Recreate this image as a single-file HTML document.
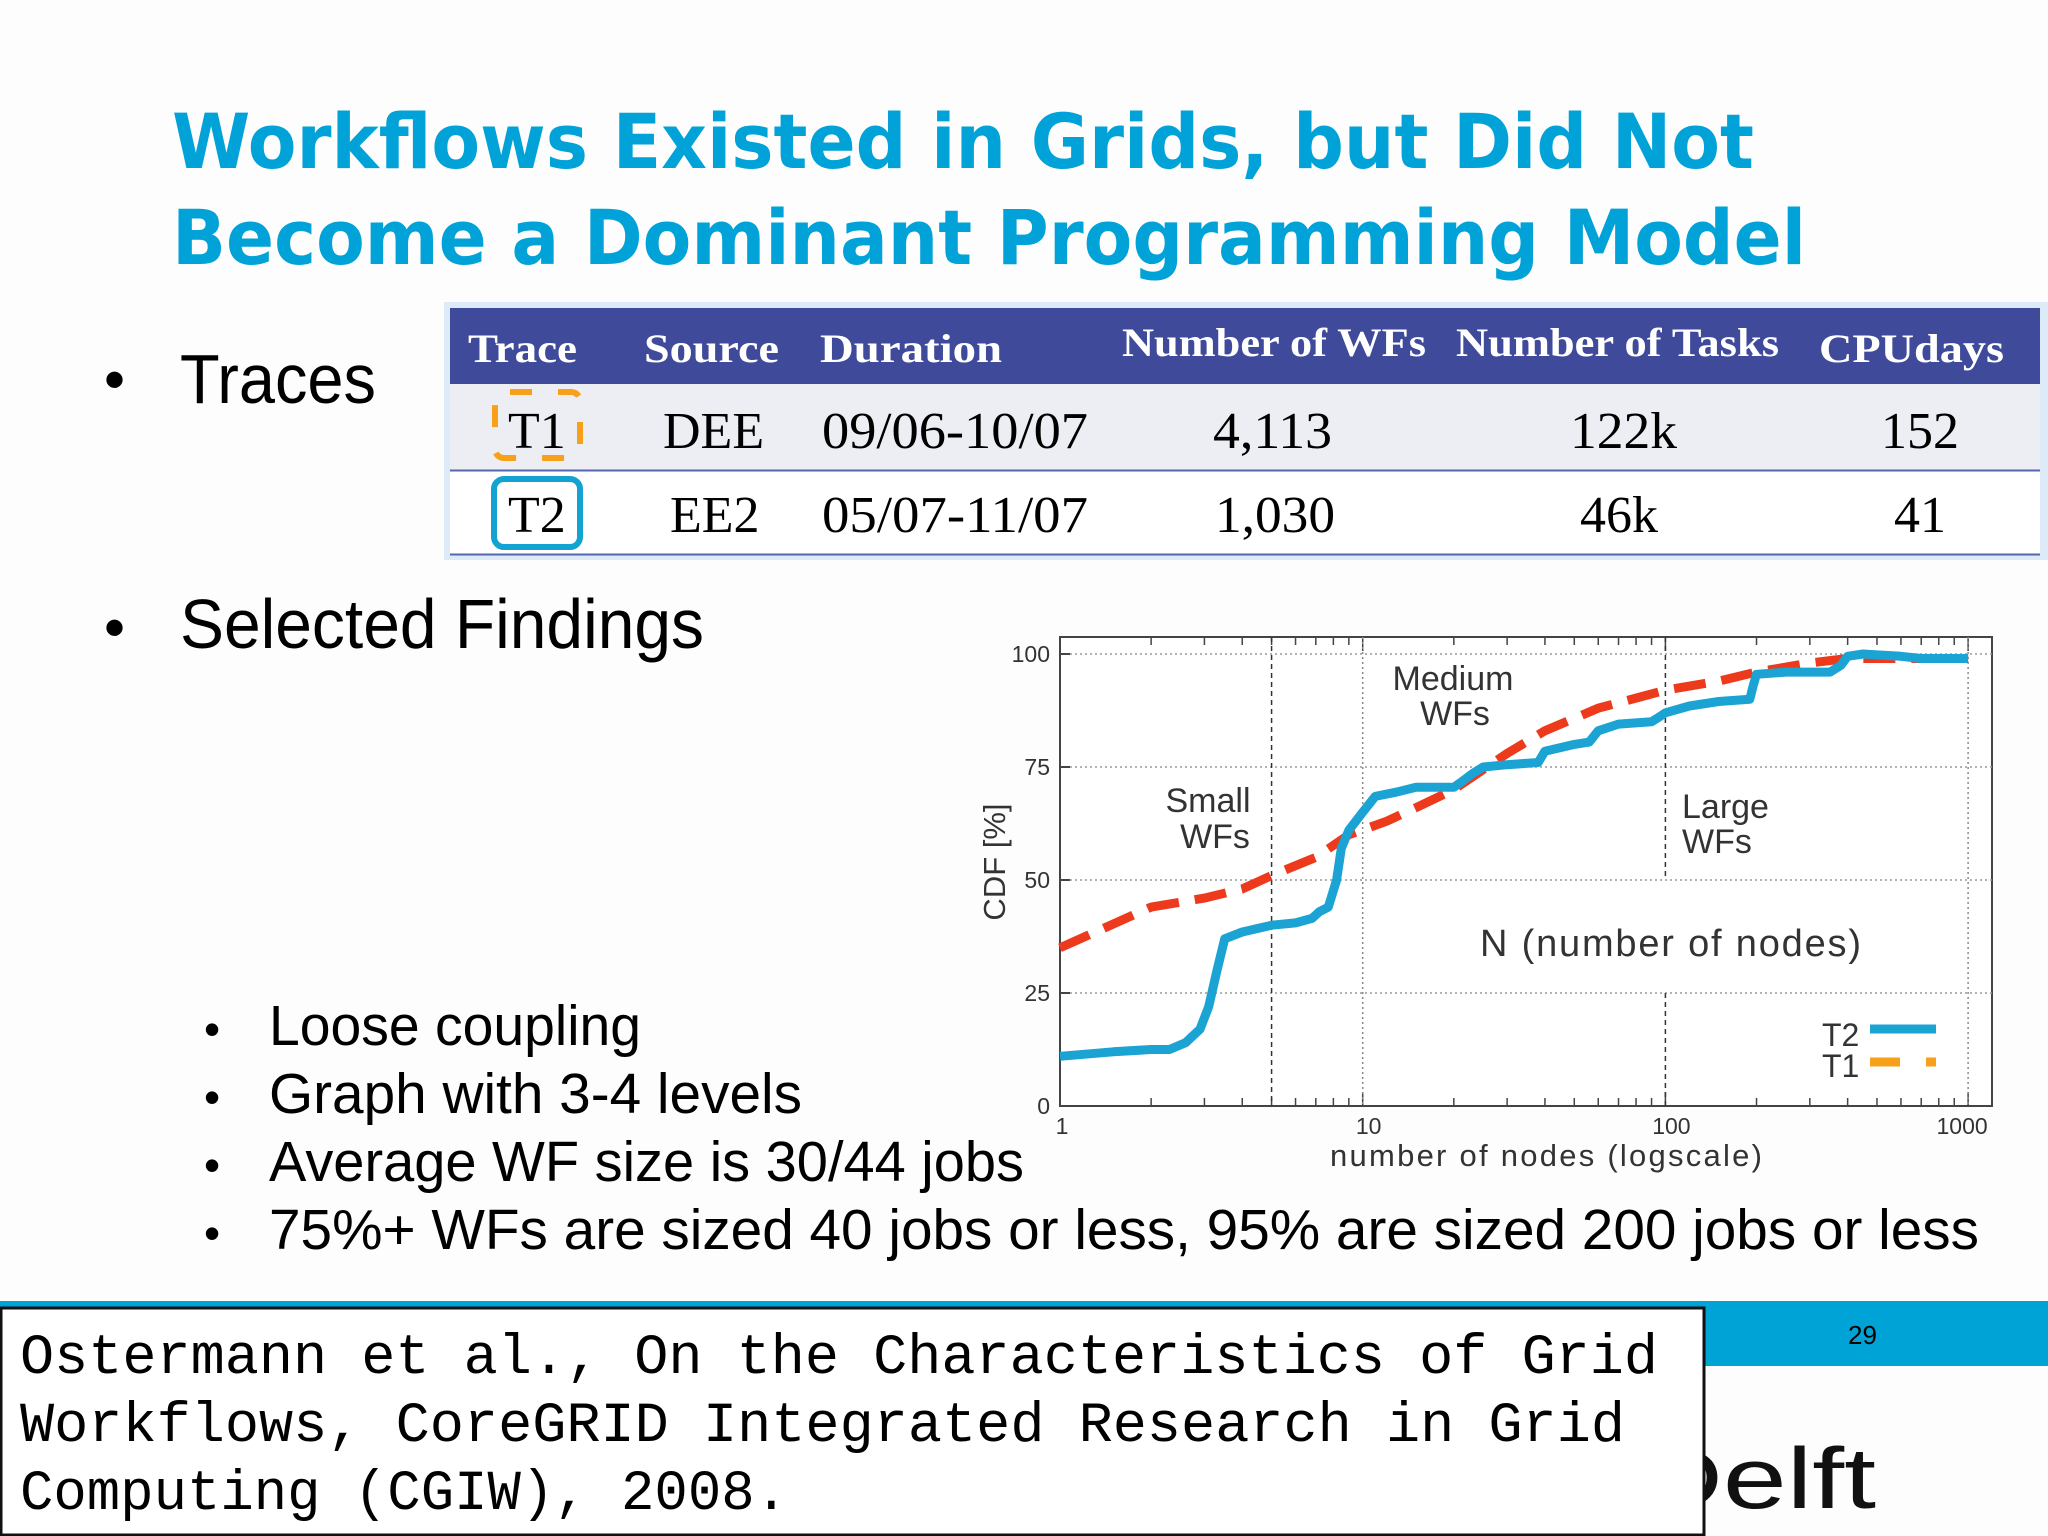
<!DOCTYPE html>
<html><head><meta charset="utf-8"><style>
html,body{margin:0;padding:0;background:#fdfdfd;}
svg{display:block;}
</style></head><body>
<svg id="page" width="2048" height="1536" viewBox="0 0 2048 1536" xmlns="http://www.w3.org/2000/svg">
<rect x="0" y="0" width="2048" height="1536" fill="#fdfdfd"/>
<g font-family="'DejaVu Sans', sans-serif" font-weight="bold" font-size="76" fill="#00a2d8">
<text x="172" y="168" textLength="1582" lengthAdjust="spacingAndGlyphs">Workflows Existed in Grids, but Did Not</text>
<text x="172" y="264" textLength="1634" lengthAdjust="spacingAndGlyphs">Become a Dominant Programming Model</text>
</g>
<g font-family="'Liberation Sans', sans-serif" fill="#000">
<text x="104" y="400" font-size="60">•</text>
<text x="180" y="403" font-size="70" textLength="196" lengthAdjust="spacingAndGlyphs">Traces</text>
<text x="104" y="648" font-size="60">•</text>
<text x="180" y="648" font-size="70" textLength="524" lengthAdjust="spacingAndGlyphs">Selected Findings</text>
<g font-size="57">
<text x="204" y="1045" font-size="46">•</text>
<text x="269" y="1045" textLength="372" lengthAdjust="spacingAndGlyphs">Loose coupling</text>
<text x="204" y="1113" font-size="46">•</text>
<text x="269" y="1113" textLength="533" lengthAdjust="spacingAndGlyphs">Graph with 3-4 levels</text>
<text x="204" y="1181" font-size="46">•</text>
<text x="269" y="1181" textLength="755" lengthAdjust="spacingAndGlyphs">Average WF size is 30/44 jobs</text>
<text x="204" y="1249" font-size="46">•</text>
<text x="269" y="1249" textLength="1710" lengthAdjust="spacingAndGlyphs">75%+ WFs are sized 40 jobs or less, 95% are sized 200 jobs or less</text>
</g>
</g>
<g>
<rect x="444" y="302" width="1604" height="258" fill="#dcebf7"/>
<rect x="450" y="308" width="1590" height="76" fill="#3f4a9b"/>
<rect x="450" y="384" width="1590" height="86" fill="#ededf4"/>
<rect x="450" y="471" width="1590" height="83" fill="#ffffff"/>
<line x1="450" y1="470.5" x2="2040" y2="470.5" stroke="#5566b0" stroke-width="2"/>
<line x1="450" y1="554.5" x2="2040" y2="554.5" stroke="#5566b0" stroke-width="2"/>
<g font-family="'Liberation Serif', serif" font-weight="bold" font-size="40" fill="#fff" lengthAdjust="spacingAndGlyphs">
<text x="468" y="362" textLength="109" lengthAdjust="spacingAndGlyphs">Trace</text>
<text x="644" y="362" textLength="135" lengthAdjust="spacingAndGlyphs">Source</text>
<text x="820" y="362" textLength="182" lengthAdjust="spacingAndGlyphs">Duration</text>
<text x="1122" y="356" textLength="304" lengthAdjust="spacingAndGlyphs">Number of WFs</text>
<text x="1456" y="356" textLength="323" lengthAdjust="spacingAndGlyphs">Number of Tasks</text>
<text x="1819" y="362" textLength="185" lengthAdjust="spacingAndGlyphs">CPUdays</text>
</g>
<g font-family="'Liberation Serif', serif" font-size="52" fill="#000">
<text x="508" y="448">T1</text>
<text x="663" y="448">DEE</text>
<text x="822" y="448" textLength="266" lengthAdjust="spacingAndGlyphs">09/06-10/07</text>
<text x="1213" y="448" textLength="119" lengthAdjust="spacingAndGlyphs">4,113</text>
<text x="1570" y="448" textLength="107" lengthAdjust="spacingAndGlyphs">122k</text>
<text x="1881" y="448">152</text>
<text x="508" y="532">T2</text>
<text x="670" y="532">EE2</text>
<text x="822" y="532" textLength="266" lengthAdjust="spacingAndGlyphs">05/07-11/07</text>
<text x="1215" y="532" textLength="120" lengthAdjust="spacingAndGlyphs">1,030</text>
<text x="1580" y="532">46k</text>
<text x="1894" y="532">41</text>
</g>
<rect x="495" y="392" width="85" height="66" rx="9" fill="none" stroke="#f7a01a" stroke-width="6" stroke-dasharray="22,26" stroke-dashoffset="-6"/>
<rect x="494" y="479" width="86" height="68" rx="10" fill="none" stroke="#12a3d2" stroke-width="6"/>
</g>
<g id="chart"></g>
<rect x="0" y="1301" width="2048" height="65" fill="#00a3d6"/>
<text x="1848" y="1344" font-family="'Liberation Sans', sans-serif" font-size="26" fill="#000">29</text>
<text x="1640" y="1508" font-family="'Liberation Sans', sans-serif" font-size="86" fill="#111" textLength="236" lengthAdjust="spacingAndGlyphs">Delft</text>
<rect x="1" y="1308" width="1703" height="227" fill="#fff" stroke="#111" stroke-width="3"/>
<g font-family="'Liberation Mono', monospace" font-size="57" fill="#000">
<text x="20" y="1373" textLength="1638" lengthAdjust="spacingAndGlyphs">Ostermann et al., On the Characteristics of Grid</text>
<text x="20" y="1441" textLength="1605" lengthAdjust="spacingAndGlyphs">Workflows, CoreGRID Integrated Research in Grid</text>
<text x="20" y="1509" textLength="768" lengthAdjust="spacingAndGlyphs">Computing (CGIW), 2008.</text>
</g>
</svg>
<script>
const yTicks = [0, 25, 50, 75, 100];
const xTicks = [1, 10, 100, 1000];
const t2X = [1,1.5,2,2.3,2.6,2.9,3.1,3.3,3.5,4,5,6,6.8,7.2,7.7,8.2,8.5,9,10,11,13,15,20,21,23,25,30,38,40,50,56,60,70,90,95,100,120,150,190,195,200,250,350,380,400,450,500,600,700,1000];
const t2Y = [11,12,12.5,12.5,14,17,22,30,37,38.5,40,40.5,41.5,43,44,50,57,61,65,68.5,69.5,70.5,70.5,71.5,73.5,75,75.5,76,78.5,80,80.5,83,84.5,85,86,87,88.5,89.5,90,93,95.5,96,96,97.5,99.5,100,99.8,99.5,99,99];
const t1X = [1,2,3,4,5,7,9,12,15,20,30,40,60,100,150,200,300,400,700,1000];
const t1Y = [35,44,46,48,51,55,60,63,66,70,78,83,88,92,94,96,98,99,99,99];

const NS = 'http://www.w3.org/2000/svg';
const g = document.getElementById('chart');
const L = 1060, R = 1992, T = 637, B = 1106;
const X0 = 1060, DEC = 302.7;
const yTop = 654;
function sx(v){ return X0 + Math.log10(v) * DEC; }
function sy(v){ return B - (v / 100) * (B - yTop); }
function mk(tag, attrs){ const e = document.createElementNS(NS, tag); for (const k in attrs) e.setAttribute(k, attrs[k]); g.appendChild(e); return e; }
function tx(x, y, s, size, anchor){ const e = mk('text', {x:x, y:y, 'font-family':"'Liberation Sans', sans-serif", 'font-size':size, fill:'#333', 'text-anchor':anchor||'start'}); e.textContent = s; return e; }

let e = mk('rect', {x:L, y:T, width:R-L, height:B-T, fill:'#fff', stroke:'#444', 'stroke-width':2});



yTicks.forEach(v => {
  if (v > 0) {
    const l = mk('line', {x1:L, x2:R, y1:sy(v), y2:sy(v), stroke:'#999', 'stroke-width':1.5, 'stroke-dasharray':'2,3'});
    
    
  }
  const t = tx(L - 10, sy(v) + 8, String(v), 23, 'end');
  
  
  const tk = mk('line', {x1:L, x2:L+10, y1:sy(v), y2:sy(v), stroke:'#444', 'stroke-width':2});
  
  
});
for (let d = 1; d <= 1000; d *= 10) {
  for (let m = 1; m <= 9 && d*m <= 1000; m++) {
    const x = sx(d*m);
    const len = m === 1 ? 14 : 8;
    let a = mk('line', {x1:x, x2:x, y1:B, y2:B-len, stroke:'#444', 'stroke-width':1.5});
    
    
    let b = mk('line', {x1:x, x2:x, y1:T, y2:T+len, stroke:'#444', 'stroke-width':1.5});
    
    
  }
}
let d5 = mk('line', {x1:sx(5), x2:sx(5), y1:T, y2:B, stroke:'#333', 'stroke-width':1.5, 'stroke-dasharray':'5,4'});


let d100a = mk('line', {x1:sx(100), x2:sx(100), y1:T, y2:sy(50), stroke:'#333', 'stroke-width':1.5, 'stroke-dasharray':'5,4'});


let d100b = mk('line', {x1:sx(100), x2:sx(100), y1:sy(25), y2:B, stroke:'#333', 'stroke-width':1.5, 'stroke-dasharray':'5,4'});


[10, 1000].forEach(v => {
  const l = mk('line', {x1:sx(v), x2:sx(v), y1:T, y2:B, stroke:'#888', 'stroke-width':1.5, 'stroke-dasharray':'2,3'});
  
  
});
xTicks.forEach(v => {
  const t = tx(sx(v) + (v===1?2:v===1000?-6:6), B + 28, String(v), 23, 'middle');
  
  
});

function pts(xs, ys){ return xs.map((x,i) => sx(x).toFixed(1) + ',' + sy(ys[i]).toFixed(1)).join(' '); }
let p1 = mk('polyline', {points:pts(t1X, t1Y), fill:'none', stroke:'#ee3a1c', 'stroke-width':9, 'stroke-dasharray':'32,16'});


let p2 = mk('polyline', {points:pts(t2X, t2Y), fill:'none', stroke:'#1ba3d3', 'stroke-width':9, 'stroke-linejoin':'round'});



let a1 = tx(1208, 812, 'Small', 34, 'middle');  
let a2 = tx(1215, 848, 'WFs', 34, 'middle');  
let a3 = tx(1453, 690, 'Medium', 34, 'middle');  
let a4 = tx(1455, 725, 'WFs', 34, 'middle');  
let a5 = tx(1682, 818, 'Large', 34);  
let a6 = tx(1682, 853, 'WFs', 34);  
let a7 = tx(1480, 956, 'N (number of nodes)', 38);  
a7.setAttribute('textLength', '381');

let xt = tx(1546, 1166, 'number of nodes (logscale)', 31, 'middle');


xt.setAttribute('textLength', '432');
let yt = tx(0, 0, 'CDF [%]', 31, 'middle');
yt.setAttribute('transform', 'translate(1005,862) rotate(-90)');



let l1 = tx(1822, 1046, 'T2', 32);  
let l2 = mk('line', {x1:1870, x2:1936, y1:1029, y2:1029, stroke:'#1ba3d3', 'stroke-width':9});
 
let l3 = tx(1822, 1077, 'T1', 32);  
let l4 = mk('line', {x1:1870, x2:1936, y1:1062, y2:1062, stroke:'#f7a01a', 'stroke-width':9, 'stroke-dasharray':'30,26,10'});
 
</script>
</body></html>
